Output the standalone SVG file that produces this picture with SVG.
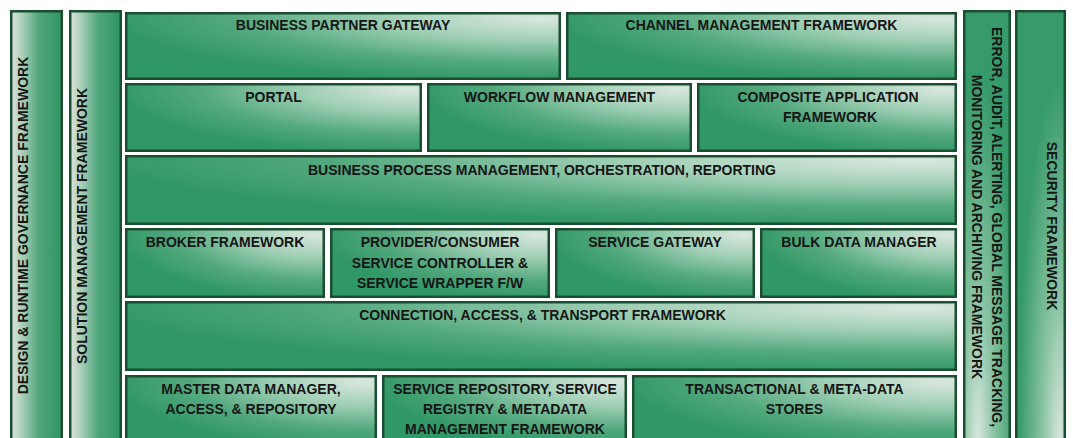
<svg xmlns="http://www.w3.org/2000/svg" width="1073" height="438" viewBox="0 0 1073 438">
<defs>
<radialGradient id="gMain" cx="1" cy="0" r="1.05" fx="0.95" fy="0.08">
<stop offset="0" stop-color="#d9e7de"/>
<stop offset="0.35" stop-color="#9fcfb4"/>
<stop offset="0.7" stop-color="#53a97e"/>
<stop offset="1" stop-color="#309766"/>
</radialGradient>
<linearGradient id="gLeft" x1="0" y1="0" x2="1" y2="0">
<stop offset="0" stop-color="#dde2de"/>
<stop offset="0.18" stop-color="#b3d3bf"/>
<stop offset="0.55" stop-color="#4fa67b"/>
<stop offset="1" stop-color="#2f9464"/>
</linearGradient>
<radialGradient id="gErr" cx="0.3" cy="1" r="0.85">
<stop offset="0" stop-color="#dce8e0"/>
<stop offset="0.4" stop-color="#8cc5a5"/>
<stop offset="1" stop-color="#369a6a"/>
</radialGradient>
<radialGradient id="gSec" cx="0.9" cy="1" r="0.85">
<stop offset="0" stop-color="#dce8e0"/>
<stop offset="0.4" stop-color="#8cc5a5"/>
<stop offset="1" stop-color="#369a6a"/>
</radialGradient>
</defs>
<style>
rect.b{fill:url(#gMain);stroke:#1b4e31;stroke-width:2.5}
rect.l{fill:url(#gLeft);stroke:#1b4e31;stroke-width:2.5}
text{font-family:"Liberation Sans",Arial,sans-serif;font-weight:bold;font-size:14px;fill:#161616;text-anchor:middle}
</style>
<rect width="1073" height="438" fill="#ffffff"/>
<g id="design-runtime-governance">
<rect class="l" x="11.25" y="11.25" width="50.5" height="440"/>
<text x="28" y="225.5" transform="rotate(-90 28 225.5)">DESIGN &amp; RUNTIME GOVERNANCE FRAMEWORK</text>
</g>
<g id="solution-management">
<rect class="l" x="70.25" y="11.25" width="50.5" height="440"/>
<text x="87" y="226" transform="rotate(-90 87 226)">SOLUTION MANAGEMENT FRAMEWORK</text>
</g>
<g id="business-partner-gateway">
<rect class="b" x="126.25" y="13.25" width="433.5" height="65.5"/>
<text x="343" y="30">BUSINESS PARTNER GATEWAY</text>
</g>
<g id="channel-management">
<rect class="b" x="567.25" y="13.25" width="388.5" height="65.5"/>
<text x="761.5" y="30">CHANNEL MANAGEMENT FRAMEWORK</text>
</g>
<g id="portal">
<rect class="b" x="126.25" y="84.25" width="294.5" height="66.5"/>
<text x="273.5" y="101.5">PORTAL</text>
</g>
<g id="workflow-management">
<rect class="b" x="428.25" y="84.25" width="262.5" height="66.5"/>
<text x="559.5" y="101.5">WORKFLOW MANAGEMENT</text>
</g>
<g id="composite-application">
<rect class="b" x="698.25" y="84.25" width="257.5" height="66.5"/>
<text x="828" y="101.5">COMPOSITE APPLICATION</text>
<text x="830" y="122">FRAMEWORK</text>
</g>
<g id="bpm">
<rect class="b" x="126.25" y="156.25" width="829.5" height="67.5"/>
<text x="542" y="175">BUSINESS PROCESS MANAGEMENT, ORCHESTRATION, REPORTING</text>
</g>
<g id="broker">
<rect class="b" x="126.25" y="229.25" width="197.5" height="67.5"/>
<text x="225" y="247">BROKER FRAMEWORK</text>
</g>
<g id="provider-consumer">
<rect class="b" x="331.25" y="229.25" width="217.5" height="67.5"/>
<text x="440" y="247">PROVIDER/CONSUMER</text>
<text x="440" y="267.5">SERVICE CONTROLLER &amp;</text>
<text x="440" y="288">SERVICE WRAPPER F/W</text>
</g>
<g id="service-gateway">
<rect class="b" x="556.25" y="229.25" width="197.5" height="67.5"/>
<text x="655" y="247">SERVICE GATEWAY</text>
</g>
<g id="bulk-data-manager">
<rect class="b" x="761.25" y="229.25" width="194.5" height="67.5"/>
<text x="859" y="247">BULK DATA MANAGER</text>
</g>
<g id="connection-access-transport">
<rect class="b" x="126.25" y="302.25" width="829.5" height="67.5"/>
<text x="542.5" y="319.5">CONNECTION, ACCESS, &amp; TRANSPORT FRAMEWORK</text>
</g>
<g id="master-data-manager">
<rect class="b" x="126.25" y="376.25" width="249.5" height="70"/>
<text x="251" y="393.5">MASTER DATA MANAGER,</text>
<text x="251" y="413.5">ACCESS, &amp; REPOSITORY</text>
</g>
<g id="service-repository">
<rect class="b" x="383.25" y="376.25" width="242.5" height="70"/>
<text x="505" y="393.5">SERVICE REPOSITORY, SERVICE</text>
<text x="505" y="413.5">REGISTRY &amp; METADATA</text>
<text x="505" y="434">MANAGEMENT FRAMEWORK</text>
</g>
<g id="transactional-metadata-stores">
<rect class="b" x="633.25" y="376.25" width="322.5" height="70"/>
<text x="794.5" y="393.5">TRANSACTIONAL &amp; META-DATA</text>
<text x="794.5" y="413.5">STORES</text>
</g>
<g id="error-audit-alerting">
<rect x="964.25" y="11.25" width="45.5" height="440" fill="url(#gErr)" stroke="#1b4e31" stroke-width="2.5"/>
<text x="992" y="227" transform="rotate(90 992 227)">ERROR, AUDIT, ALERTING, GLOBAL MESSAGE TRACKING,</text>
<text x="972" y="227" transform="rotate(90 972 227)">MONITORING AND ARCHIVING FRAMEWORK</text>
</g>
<g id="security-framework">
<rect x="1016.25" y="11.25" width="48.5" height="440" fill="url(#gSec)" stroke="#1b4e31" stroke-width="2.5"/>
<text x="1047" y="226" transform="rotate(90 1047 226)">SECURITY FRAMEWORK</text>
</g>
<g id="connectors"/>
</svg>
